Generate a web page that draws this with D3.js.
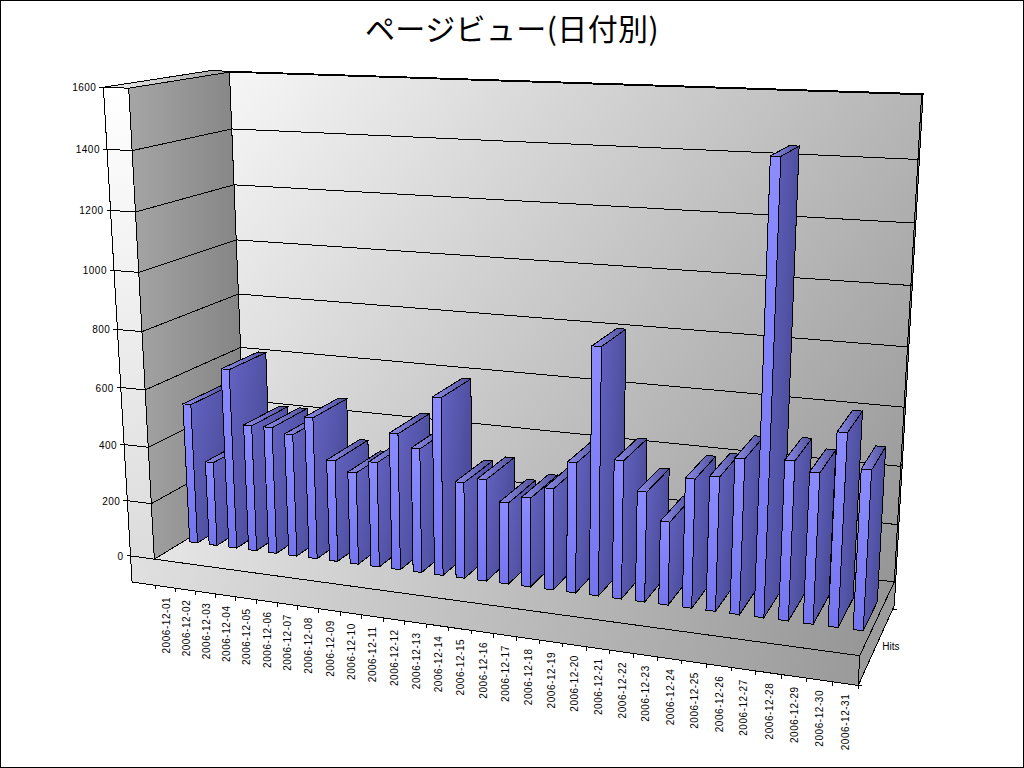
<!DOCTYPE html>
<html><head><meta charset="utf-8">
<script src="https://cdn.jsdelivr.net/npm/d3@7"></script>
<style>html,body{margin:0;padding:0;background:#fff}svg{display:block}</style></head>
<body><script>
const titleText = "ページビュー(日付別)";
const seriesName = "Hits";
const dates = ["2006-12-01","2006-12-02","2006-12-03","2006-12-04","2006-12-05","2006-12-06","2006-12-07","2006-12-08","2006-12-09","2006-12-10","2006-12-11","2006-12-12","2006-12-13","2006-12-14","2006-12-15","2006-12-16","2006-12-17","2006-12-18","2006-12-19","2006-12-20","2006-12-21","2006-12-22","2006-12-23","2006-12-24","2006-12-25","2006-12-26","2006-12-27","2006-12-28","2006-12-29","2006-12-30","2006-12-31"];
const hits = [504,303,642,451,452,435,502,359,325,369,477,433,615,333,352,281,307,347,443,831,466,371,280,431,446,513,1450,523,493,628,519];
const yTicks = [0,200,400,600,800,1000,1200,1400,1600];

const svg = d3.select("body").append("svg").attr("width",1024).attr("height",768).style("shape-rendering","crispEdges");
const defs = svg.append("defs");

// camera calibration: unit-cube coords -> screen
const calib = [
 [0,0,0,155,558],[1,0,0,859,657],[0,1,0,128,89],[0,0,1,247,507],[1,0,1,893,580],
 [0,1,1,230,72],[1,1,1,922,96],[0,.5,1,238,292],[1,.5,1,908,345],[0,.5,0,141,332],
 [0,.25,0,148,446],[.5,-.06,0,483,632],[0,-.06,0,156,584],[1,-.06,0,859,687],[0,.875,0,132,151],[0,.75,0,136,212]];
function solveCamera(pts){
  const A=[],b=[];
  pts.forEach(([x,y,z,u,v])=>{
    A.push([x,y,z,1,0,0,0,0,-u*x,-u*y,-u*z]);b.push(u);
    A.push([0,0,0,0,x,y,z,1,-v*x,-v*y,-v*z]);b.push(v);
  });
  const n=11,M=d3.range(n).map(i=>d3.range(n+1).map(j=>{
    let s=0;A.forEach((r,k)=>{s+=r[i]*(j<n?r[j]:b[k]);});return s;}));
  for(let c=0;c<n;c++){
    let p=c;for(let r=c+1;r<n;r++)if(Math.abs(M[r][c])>Math.abs(M[p][c]))p=r;
    [M[c],M[p]]=[M[p],M[c]];
    for(let r=0;r<n;r++)if(r!==c){const f=M[r][c]/M[c][c];for(let j=c;j<=n;j++)M[r][j]-=f*M[c][j];}
  }
  return M.map((r,i)=>r[n]/r[i]);
}
const P = solveCamera(calib);
const proj=(x,y,z)=>{const w=P[8]*x+P[9]*y+P[10]*z+1;return [(P[0]*x+P[1]*y+P[2]*z+P[3])/w,(P[4]*x+P[5]*y+P[6]*z+P[7])/w];};

const xScale=d3.scaleLinear().domain([0,dates.length]).range([0,1]);
const yScale=d3.scaleLinear().domain([0,1600]).range([0,1]);
const tx=.039,ty=.06,tz=.05;
const barL=.3,barR=.7,zF=.3,zB=.7;

function grad(id,a,b,c1,c2){
  const g=defs.append("linearGradient").attr("id",id).attr("gradientUnits","userSpaceOnUse")
   .attr("x1",a[0]).attr("y1",a[1]).attr("x2",b[0]).attr("y2",b[1]);
  g.append("stop").attr("offset",0).attr("stop-color",c1);
  g.append("stop").attr("offset",1).attr("stop-color",c2);
  return `url(#${id})`;
}
function bgrad(id,c1,c2,x2,y2){
  const g=defs.append("linearGradient").attr("id",id).attr("x1",0).attr("y1",0).attr("x2",x2).attr("y2",y2);
  g.append("stop").attr("offset",0).attr("stop-color",c1);
  g.append("stop").attr("offset",1).attr("stop-color",c2);
  return `url(#${id})`;
}
const poly=(pts,fill)=>svg.append("polygon").attr("points",pts.map(p=>proj(...p).join(",")).join(" "))
   .attr("fill",fill).attr("stroke","#000").attr("stroke-width",1);

svg.append("rect").attr("x",.5).attr("y",.5).attr("width",1023).attr("height",767).attr("fill","#fff").attr("stroke","#000");

poly([[-tx,-ty,0],[1,-ty,0],[1,0,0],[-tx,0,0]],grad("gSlab",[131,560],[859,680],"#e0e0e0","#9a9a9a"));
poly([[1,-ty,0],[1,-ty,1+tz],[1,0,1+tz],[1,0,0]],"#9c9c9c");
poly([[-tx,0,0],[1,0,0],[1,0,1],[0,0,1],[0,0,0]],grad("gFloor",[160,520],[880,650],"#e6e6e6","#959595"));
poly([[0,0,1],[1,0,1],[1,1,1],[0,1,1]],grad("gBack",[230,72],[893,580],"#f6f6f6","#969696"));
poly([[1,0,1],[1,0,1+tz],[1,1,1+tz],[1,1,1]],"#808080");
poly([[0,1,1],[1,1,1],[1,1,1+tz],[0,1,1+tz]],grad("gBackTop",[230,70],[925,95],"#d8d8d8","#888888"));
poly([[0,0,0],[0,0,1],[0,1,1],[0,1,0]],grad("gLeft",[128,300],[240,300],"#a6a6a6","#858585"));
poly([[-tx,1,0],[0,1,0],[0,1,1+tz],[-tx,1,1+tz]],grad("gLeftTop",[110,88],[225,70],"#ececec","#a0a0a0"));
poly([[-tx,0,0],[0,0,0],[0,1,0],[-tx,1,0]],grad("gFront",[110,90],[150,555],"#ffffff","#dcdcdc"));

yTicks.forEach(t=>{
  const y=yScale(t);
  const pts=[[-tx,y,0],[0,y,0],[0,y,1],[1,y,1],[1,y,1+tz]].map(p=>proj(...p));
  svg.append("polyline").attr("points",pts.map(p=>p.join(",")).join(" ")).attr("fill","none").attr("stroke","#000");
  const p=proj(-tx,y,0);
  svg.append("line").attr("x1",p[0]-4).attr("x2",p[0]).attr("y1",p[1]).attr("y2",p[1]).attr("stroke","#000");
  svg.append("text").attr("x",p[0]-7).attr("y",p[1]+4).attr("text-anchor","end").attr("letter-spacing",.5)
    .attr("font-family","Liberation Sans").attr("font-size",10).text(t);
});

const sideF=bgrad("gSide","#6464c4","#484894",1,.6);
const frontF=bgrad("gFrontBar","#8c8cff","#7474ee",0,1);
const topF=bgrad("gTop","#8a8ae8","#505098",1,0);
hits.forEach((v,i)=>{
  const a=xScale(i+barL),b=xScale(i+barR),y=yScale(v);
  poly([[b,0,zF],[b,0,zB],[b,y,zB],[b,y,zF]],sideF);
  poly([[a,y,zF],[b,y,zF],[b,y,zB],[a,y,zB]],topF);
  poly([[a,0,zF],[b,0,zF],[b,y,zF],[a,y,zF]],frontF);
});

dates.forEach((d,i)=>{
  const p=proj(xScale(i),-ty,0);
  svg.append("line").attr("x1",p[0]).attr("x2",p[0]).attr("y1",p[1]).attr("y2",p[1]+4).attr("stroke","#000");
  const m=proj(xScale(i+.5),-ty,0);
  svg.append("text").attr("transform",`translate(${m[0]+4},${m[1]+10}) rotate(-90)`).attr("text-anchor","end")
    .attr("font-family","Liberation Sans").attr("font-size",10).attr("letter-spacing",.55).text(d);
});
const e=proj(1,-ty,0);
svg.append("line").attr("x1",e[0]-1).attr("x2",e[0]+4).attr("y1",e[1]).attr("y2",e[1]).attr("stroke","#000");
svg.append("line").attr("x1",e[0]).attr("x2",e[0]).attr("y1",e[1]).attr("y2",e[1]+4).attr("stroke","#000");
const e2=proj(1,-ty,1);
svg.append("line").attr("x1",e2[0]).attr("x2",e2[0]+4).attr("y1",e2[1]).attr("y2",e2[1]).attr("stroke","#000");
const hp=proj(1,-ty,.5);
svg.append("text").attr("x",hp[0]+6).attr("y",hp[1]+5).attr("font-family","Liberation Sans").attr("font-size",10).text(seriesName);

svg.append("text").attr("x",512).attr("y",40).attr("text-anchor","middle").attr("font-family","Noto Sans CJK JP").attr("font-size",30).attr("letter-spacing",.4).text(titleText);
</script></body></html>
